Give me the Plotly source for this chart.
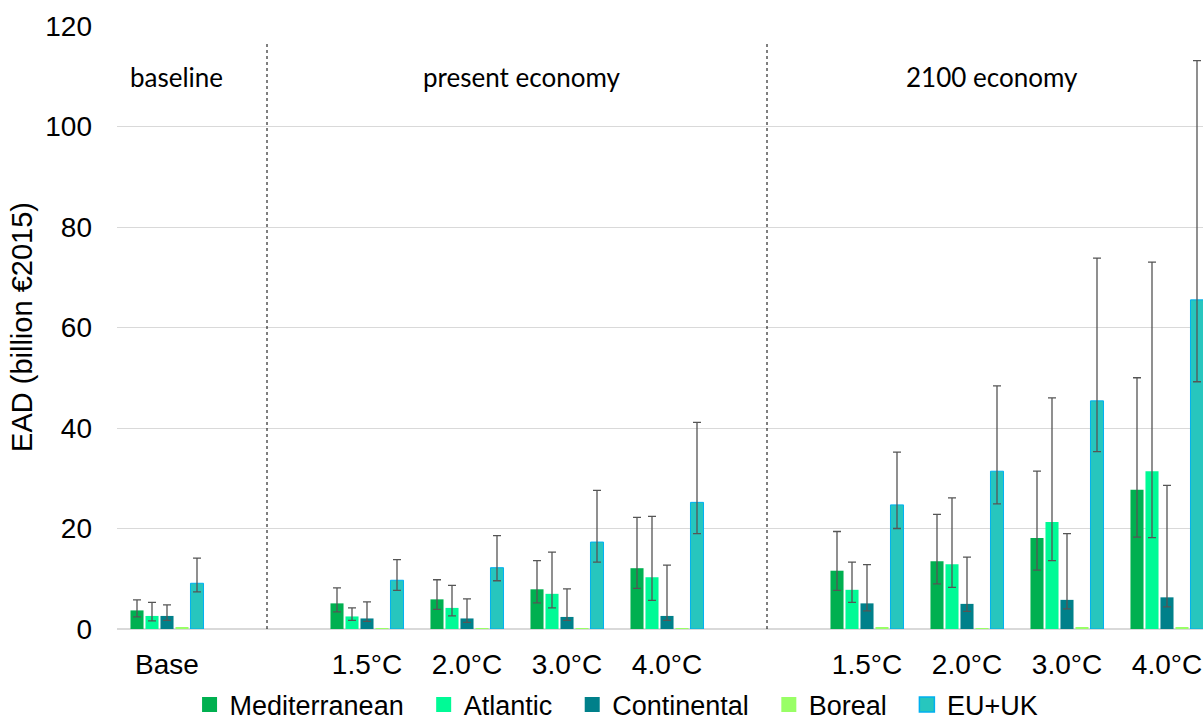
import plotly.graph_objects as go

# x positions: 0 = Base, 1 = gap, 2-5 present economy, 6 = gap, 7-10 2100 economy
x_pos = [0, 2, 3, 4, 5, 7, 8, 9, 10]
tick_labels = ["Base", "1.5°C", "2.0°C", "3.0°C", "4.0°C", "1.5°C", "2.0°C", "3.0°C", "4.0°C"]

series_names = ["Mediterranean", "Atlantic", "Continental", "Boreal", "EU+UK"]

med_val = [3.7, 5.1, 5.9, 7.9, 12.1, 11.6, 13.5, 18.1, 27.7]
med_hi = [5.8, 8.2, 9.8, 13.6, 22.2, 19.4, 22.8, 31.4, 50.0]
med_lo = [2.4, 3.4, 3.9, 5.2, 8.1, 7.7, 9.0, 11.7, 18.3]

atl_val = [2.6, 2.5, 4.2, 7.0, 10.3, 7.8, 12.9, 21.3, 31.4]
atl_hi = [5.3, 4.2, 8.7, 15.3, 22.4, 13.3, 26.1, 46.0, 73.0]
atl_lo = [1.6, 1.7, 2.6, 4.2, 5.7, 5.3, 8.3, 13.6, 18.2]

con_val = [2.6, 2.1, 2.1, 2.4, 2.6, 5.1, 5.0, 5.8, 6.3]
con_hi = [4.8, 5.4, 6.0, 8.0, 12.7, 12.8, 14.3, 19.0, 28.6]
con_lo = [1.7, 1.5, 1.3, 1.7, 1.7, 3.6, 3.5, 4.0, 4.4]

bor_val = [0.3, 0.2, 0.2, 0.2, 0.2, 0.3, 0.2, 0.3, 0.3]

eu_val = [9.1, 9.7, 12.2, 17.3, 25.2, 24.7, 31.4, 45.4, 65.5]
eu_hi = [14.1, 13.8, 18.6, 27.6, 41.1, 35.2, 48.4, 73.8, 113.1]
eu_lo = [7.4, 7.7, 9.6, 13.3, 19.0, 20.0, 24.9, 35.3, 49.2]

colors = ["#00B050", "#00FA96", "#00808A", "#99FF66", "#27C6BE"]
line_colors = ["#00B050", "#00FA96", "#00808A", "#99FF66", "#00B0F0"]

section_labels = ["baseline", "present economy", "2100 economy"]
section_x = [0.09, 3.54, 8.25]
section_y = 109.9
divider_x = [1, 6]
divider_top = 116.6

fig = go.Figure()

def err(val, hi, lo):
    return dict(type="data", symmetric=False,
                array=[h - v for h, v in zip(hi, val)],
                arrayminus=[v - l for v, l in zip(val, lo)],
                color="#555555", thickness=1.3, width=4)

series = [
    (med_val, med_hi, med_lo),
    (atl_val, atl_hi, atl_lo),
    (con_val, con_hi, con_lo),
    (bor_val, None, None),
    (eu_val, eu_hi, eu_lo),
]

for i, (name, (v, hi, lo)) in enumerate(zip(series_names, series)):
    kw = {}
    if hi is not None:
        kw["error_y"] = err(v, hi, lo)
    fig.add_trace(go.Bar(
        x=x_pos, y=v, name=name, showlegend=False,
        marker=dict(color=colors[i], line=dict(color=line_colors[i], width=1 if i == 4 else 0)),
        **kw))

# legend entries (padding with no-break spaces to widen the gaps between entries)
pad = "\u00a0\u00a0"
for i, name in enumerate(series_names):
    fig.add_trace(go.Scatter(
        x=[None], y=[None], mode="markers",
        name=name + (pad if i < len(series_names) - 1 else ""),
        marker=dict(symbol="square", size=15, color=colors[i],
                    line=dict(color=line_colors[i], width=1.5 if i == 4 else 0))))

for xd in divider_x:
    fig.add_shape(type="line", x0=xd, x1=xd, y0=0, y1=divider_top,
                  xref="x", yref="y", line=dict(color="black", width=1, dash="dot"))

for txt, xs in zip(section_labels, section_x):
    fig.add_annotation(x=xs, y=section_y, xref="x", yref="y", text=txt,
                       showarrow=False, font=dict(family="Lato", size=26, color="black"))

fig.update_layout(
    width=1203, height=721,
    margin=dict(l=117, r=0, t=25, b=92, autoexpand=False),
    paper_bgcolor="white", plot_bgcolor="white",
    barmode="group", bargap=0.25, bargroupgap=0.13,
    font=dict(family="Liberation Sans", size=28, color="black"),
    showlegend=True,
    legend=dict(orientation="h", x=0.46, xanchor="center", y=-0.085, yanchor="top",
                font=dict(size=27), itemwidth=30, tracegroupgap=0),
    xaxis=dict(range=[-0.5, 10.36], tickvals=x_pos, ticktext=tick_labels,
               showgrid=False, zeroline=False, showline=False, ticks="",
               ticklabelstandoff=16, tickfont=dict(size=28)),
    yaxis=dict(range=[0, 120.2], tickvals=[0, 20, 40, 60, 80, 100, 120],
               showgrid=True, gridcolor="#D9D9D9", gridwidth=1.3,
               zeroline=True, zerolinecolor="#D9D9D9", zerolinewidth=1.5,
               showline=False, ticks="", ticklabelstandoff=24,
               tickfont=dict(size=28),
               title=dict(text="EAD (billion €2015)", font=dict(size=29), standoff=4)),
)

fig.write_html("out.html", config={"displayModeBar": False},
               post_script="document.body.style.margin='0';document.body.style.overflow='hidden';")
